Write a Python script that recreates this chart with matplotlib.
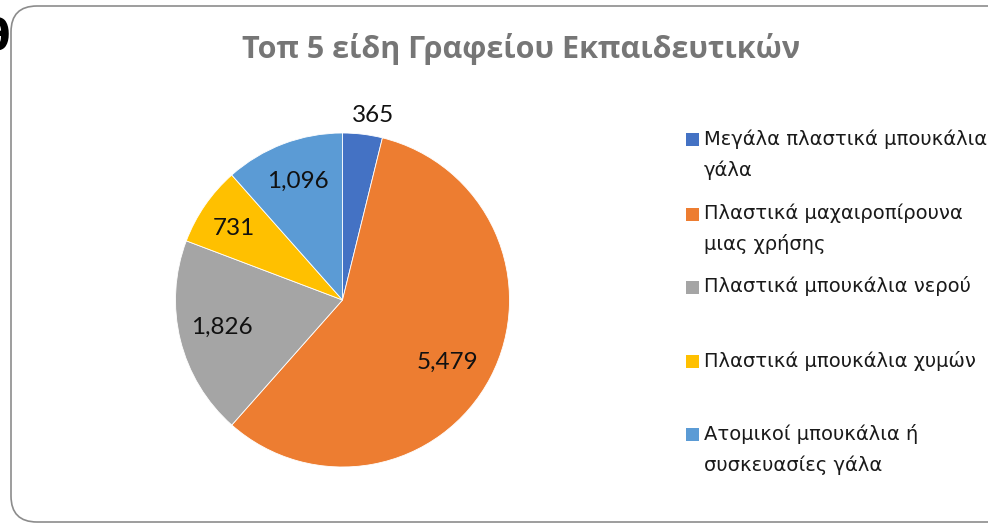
import numpy as np
import matplotlib
matplotlib.use("Agg")
from matplotlib import pyplot as plt
from matplotlib.patches import FancyBboxPatch, Rectangle

# data
categories = [
    ["Μεγάλα πλαστικά μπουκάλια", "γάλα"],
    ["Πλαστικά μαχαιροπίρουνα", "μιας χρήσης"],
    ["Πλαστικά μπουκάλια νερού"],
    ["Πλαστικά μπουκάλια χυμών"],
    ["Ατομικοί μπουκάλια ή", "συσκευασίες γάλα"],
]
values = [365, 5479, 1826, 731, 1096]
colors = ["#4472C4", "#ED7D31", "#A5A5A5", "#FFC000", "#5B9BD5"]
title = "Τοπ 5 είδη Γραφείου Εκπαιδευτικών"

W, H = 988, 524
fig = plt.figure(figsize=(W / 100, H / 100), dpi=100)

# rounded chart frame (right edge runs off the picture)
frame = FancyBboxPatch((11 / W, 2 / H), 1.2, 516 / H,
                       boxstyle="round,pad=0,rounding_size=%f" % (26 / W),
                       mutation_aspect=W / H, transform=fig.transFigure,
                       facecolor="white", edgecolor="#8c8c8c", lw=1.2, zorder=-5)
fig.add_artist(frame)

# stray glyph at the far left, cut off by the image border
fig.text(10 / W, 1 - 38 / H, "θ", ha="right", va="center", fontsize=30,
         fontweight="bold", color="black")

fig.text(521 / W, 1 - 49 / H, title, ha="center", va="center",
         fontsize=22, fontweight="bold", color="#767676", family="Open Sans")

# pie
cx, cy, R = 342.5, 300, 167
ax = fig.add_axes([(cx - R) / W, (H - cy - R) / H, 2 * R / W, 2 * R / H])
wedges, texts = ax.pie(values, colors=colors, startangle=90, counterclock=False,
                       labels=[f"{v:,}" for v in values], labeldistance=0.75,
                       wedgeprops=dict(edgecolor="white", linewidth=0.6),
                       textprops=dict(fontsize=17.5, family="Lato", color="#111111"))
ax.set_xlim(-1, 1)
ax.set_ylim(-1, 1)
ax.set_aspect("equal")
ax.axis("off")

# label radii: the small slice carries its label outside
radii = [1.12, 0.73, 0.74, 0.78, 0.76]
offsets = [-2.5, -3, -1, 1.5, 0]   # degrees, to follow Excel's placement
for w, t, r, d in zip(wedges, texts, radii, offsets):
    ang = np.deg2rad((w.theta1 + w.theta2) / 2 + d)
    t.set_position((r * np.cos(ang), r * np.sin(ang)))
    t.set_ha("center")
    t.set_va("center")

# legend, drawn by hand to keep Excel-like spacing
ys = [139, 213.5, 286.5, 361, 434]
for lines, c, y in zip(categories, colors, ys):
    fig.add_artist(Rectangle((686 / W, 1 - (y + 7) / H), 13 / W, 13 / H,
                             transform=fig.transFigure, facecolor=c, edgecolor="none"))
    for i, line in enumerate(lines):
        fig.text(704 / W, 1 - (y + i * 31) / H, line, ha="left", va="center",
                 fontsize=14, family="DejaVu Sans", color="#1a1a1a")

fig.savefig("out.png", dpi=100)
